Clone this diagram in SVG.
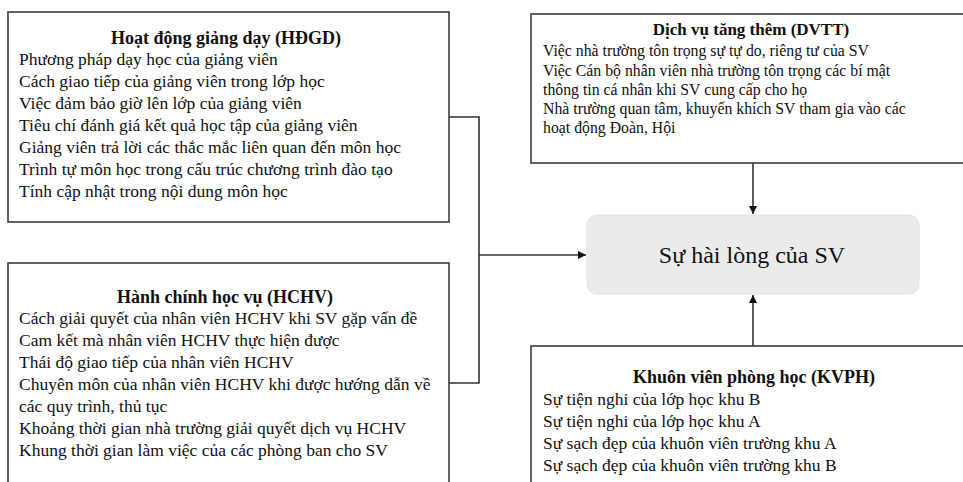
<svg xmlns="http://www.w3.org/2000/svg" width="963" height="482" viewBox="0 0 963 482">
<defs>
<style>
.box{fill:#fff;stroke:#3c3c3c;stroke-width:1.6}
.t{font-family:"Liberation Serif","Times New Roman",serif;fill:#111;font-size:17.5px}
.s{font-size:15.8px}
.h{font-weight:bold;text-anchor:middle;font-size:18px}
.c{fill:none;stroke:#333;stroke-width:1.6}
.main{fill:#ebebeb;stroke:#e2e2e2;stroke-width:1}
</style>
<marker id="ah" viewBox="0 0 10 10" refX="10" refY="5" markerWidth="8" markerHeight="8" markerUnits="userSpaceOnUse" orient="auto"><path d="M0,0 L10,5 L0,10 z" fill="#111"/></marker>
</defs>
<rect width="963" height="482" fill="#fff"/>
<g id="connectors">
<polyline class="c" points="449,117 479,117 479,383 449,383"/>
<line class="c" x1="479" y1="255" x2="586" y2="255" marker-end="url(#ah)"/>
<line class="c" x1="753" y1="163" x2="753" y2="214" marker-end="url(#ah)"/>
<line class="c" x1="753" y1="346" x2="753" y2="295" marker-end="url(#ah)"/>
</g>
<g id="hdgd">
<rect class="box" x="8" y="12" width="441" height="210"/>
<text class="t h" x="226" y="44">Hoạt động giảng dạy (HĐGD)</text>
<text class="t" x="19" y="65">Phương pháp dạy học của giảng  viên</text>
<text class="t" x="19" y="87">Cách giao  tiếp của giảng  viên  trong lớp học</text>
<text class="t" x="19" y="109">Việc đảm bảo giờ lên lớp của giảng  viên</text>
<text class="t" x="19" y="131">Tiêu chí đánh giá kết quả học tập của giảng  viên</text>
<text class="t" x="19" y="153">Giảng viên trả lời các thắc mắc liên quan đến môn học</text>
<text class="t" x="19" y="175">Trình tự môn học trong cấu trúc chương trình đào tạo</text>
<text class="t" x="19" y="197">Tính cập nhật trong nội dung môn học</text>
</g>
<g id="hchv">
<rect class="box" x="8" y="263" width="441" height="240"/>
<text class="t h" x="225" y="303">Hành chính học vụ  (HCHV)</text>
<text class="t" x="19" y="324">Cách giải  quyết của nhân viên HCHV khi SV gặp vấn đề</text>
<text class="t" x="19" y="346">Cam kết mà nhân viên HCHV thực hiện được</text>
<text class="t" x="19" y="368">Thái độ giao  tiếp của nhân viên HCHV</text>
<text class="t" x="19" y="390">Chuyên môn của nhân viên HCHV khi được hướng dẫn về</text>
<text class="t" x="19" y="412">các quy trình, thủ tục</text>
<text class="t" x="19" y="434">Khoảng thời gian nhà trường giải  quyết dịch vụ HCHV</text>
<text class="t" x="19" y="456">Khung thời gian  làm việc của các phòng ban cho SV</text>
</g>
<g id="dvtt">
<rect class="box" x="531" y="14" width="450" height="149"/>
<text class="t h" x="751" y="35" style="font-size:17px">Dịch vụ tăng thêm (DVTT)</text>
<text class="t s" x="543" y="56">Việc nhà trường tôn trọng sự tự do, riêng tư của SV</text>
<text class="t s" x="543" y="76">Việc Cán bộ nhân viên nhà trường tôn trọng các bí mật</text>
<text class="t s" x="543" y="95">thông tin cá nhân khi SV cung cấp cho họ</text>
<text class="t s" x="543" y="114">Nhà trường quan tâm, khuyến khích SV tham gia vào các</text>
<text class="t s" x="543" y="133">hoạt động Đoàn, Hội</text>
</g>
<g id="sat">
<rect class="main" x="587" y="215" width="332" height="79" rx="10"/>
<text class="t" x="752" y="263" style="font-size:24px;text-anchor:middle">Sự hài lòng của SV</text>
</g>
<g id="kvph">
<rect class="box" x="531" y="346" width="450" height="160"/>
<text class="t h" x="754" y="383">Khuôn viên phòng học (KVPH)</text>
<text class="t" x="543" y="405">Sự tiện nghi của lớp học khu B</text>
<text class="t" x="543" y="427">Sự tiện nghi của lớp học khu A</text>
<text class="t" x="543" y="449">Sự sạch đẹp của khuôn viên trường khu A</text>
<text class="t" x="543" y="471">Sự sạch đẹp của khuôn viên trường khu B</text>
</g>
</svg>
